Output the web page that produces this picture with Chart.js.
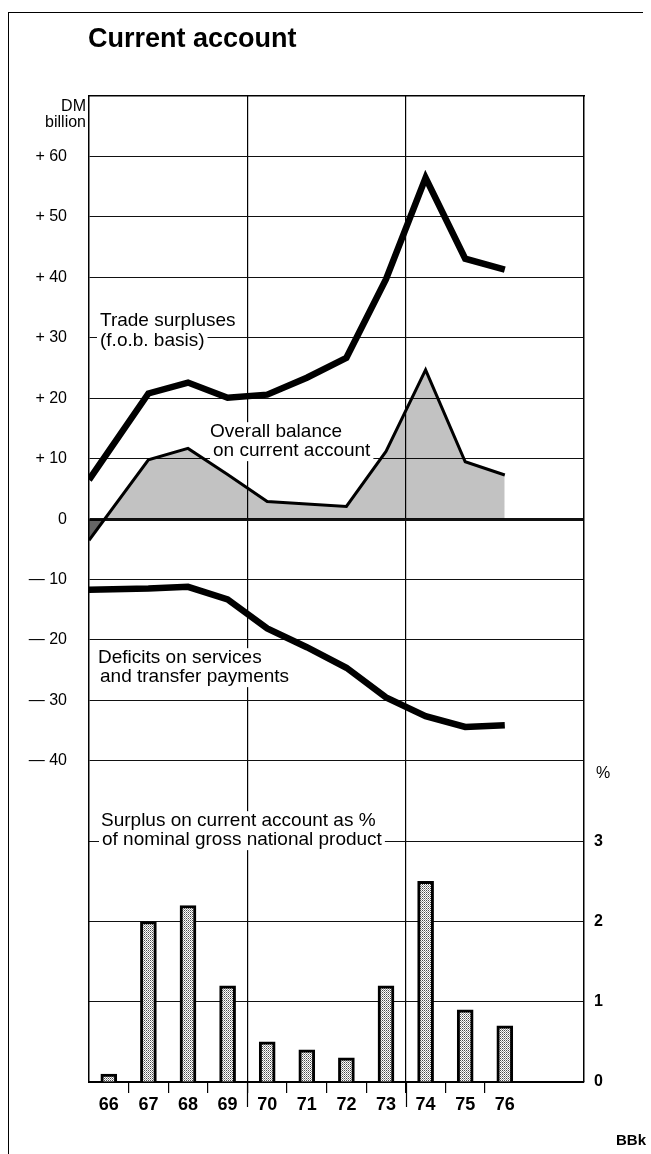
<!DOCTYPE html>
<html>
<head>
<meta charset="utf-8">
<script src="https://cdn.jsdelivr.net/npm/chart.js@4.4.1/dist/chart.umd.min.js"></script>
<style>
  html, body { margin: 0; padding: 0; background: #fff; }
  #wrap { position: relative; width: 651px; height: 1154px; overflow: hidden; }
  #frame { position: absolute; left: 8px; top: 12px; width: 634px; height: 1150px;
           border-left: 1.5px solid #000; border-top: 1.5px solid #000; }
  #chart { position: absolute; left: 0; top: 0; }
</style>
</head>
<body>
<div id="wrap"><div id="frame"></div><canvas id="chart" width="651" height="1154"></canvas></div>
<script>
// line vertices (first one sits on the left edge of the plot)
const lineYears = [65.5, 67, 68, 69, 70, 71, 72, 73, 74, 75, 76];
const tradeSurplus = [6.5, 20.8, 22.6, 20.1, 20.6, 23.4, 26.7, 39.7, 56.5, 43.1, 41.3];
const overallBalance = [-3.5, 9.8, 11.7, 7.4, 2.9, 2.5, 2.1, 11.2, 24.7, 9.5, 7.3];
const servicesDeficit = [-11.7, -11.5, -11.2, -13.3, -18.1, -21.2, -24.6, -29.5, -32.6, -34.4, -34.1];

// bars, % of GNP
const barYears = [66, 67, 68, 69, 70, 71, 72, 73, 74, 75, 76];
const surplusPct = [0.1, 2.0, 2.2, 1.2, 0.5, 0.4, 0.3, 1.2, 2.5, 0.9, 0.7];

const dmTicks = [-40, -30, -20, -10, 0, 10, 20, 30, 40, 50, 60];
const pctTicks = [0, 1, 2, 3];
const yearDividers = [69.5, 73.5];
const halfYearTicks = [66.5, 67.5, 68.5, 70.5, 71.5, 72.5, 74.5, 75.5];

const FONT = '"Liberation Sans", Arial, Helvetica, sans-serif';

function stipple(dots) {
    const c = document.createElement('canvas');
    c.width = 2; c.height = 2;
    const g = c.getContext('2d');
    g.fillStyle = '#fff';
    g.fillRect(0, 0, 2, 2);
    dots.forEach(d => {
        g.fillStyle = 'rgba(0,0,0,' + d[2] + ')';
        g.fillRect(d[0], d[1], 1, 1);
    });
    return g.createPattern(c, 'repeat');
}
const lightDots = stipple([[0, 0, 0.7], [1, 1, 0.4]]);

function toPoints(xs, ys) {
    return xs.map((x, i) => ({ x, y: ys[i] }));
}

function boxedText(ctx, lines, size, weight) {
    ctx.font = (weight || '') + ' ' + size + 'px ' + FONT;
    ctx.fillStyle = '#fff';
    lines.forEach(l => {
        const w = ctx.measureText(l.t).width;
        ctx.fillRect(l.x - 3, l.y - size * 0.78, w + 6, size * 1.05);
    });
    ctx.fillStyle = '#000';
    ctx.textAlign = 'left';
    ctx.textBaseline = 'alphabetic';
    lines.forEach(l => ctx.fillText(l.t, l.x, l.y));
}

const notes = {
    id: 'notes',
    beforeDatasetsDraw(chart) {
        const ctx = chart.ctx;
        ctx.save();
        boxedText(ctx, [{ t: 'Trade surpluses', x: 100, y: 326 }, { t: '(f.o.b. basis)', x: 100, y: 346 }], 19);
        boxedText(ctx, [{ t: 'Overall balance', x: 210, y: 437 }, { t: 'on current account', x: 213, y: 456 }], 19);
        boxedText(ctx, [{ t: 'Deficits on services', x: 98, y: 663 }, { t: 'and transfer payments', x: 100, y: 682 }], 19);
        boxedText(ctx, [{ t: 'Surplus on current account as %', x: 101, y: 826 }, { t: 'of nominal gross national product', x: 102, y: 845 }], 19);
        ctx.restore();
    },
    afterDraw(chart) {
        const ctx = chart.ctx;
        const xs = chart.scales.x;
        const bottom = chart.chartArea.bottom;
        ctx.save();
        ctx.strokeStyle = '#000';
        ctx.lineWidth = 1.2;
        yearDividers.forEach(v => {
            const px = Math.round(xs.getPixelForValue(v)) + 0.5;
            ctx.beginPath();
            ctx.moveTo(px, bottom);
            ctx.lineTo(px, bottom + 25);
            ctx.stroke();
        });
        ctx.fillStyle = '#000';
        ctx.textBaseline = 'alphabetic';
        ctx.font = 'bold 27px ' + FONT;
        ctx.textAlign = 'left';
        ctx.fillText('Current account', 88, 47);
        ctx.font = '16px ' + FONT;
        ctx.textAlign = 'right';
        ctx.fillText('DM', 86, 111);
        ctx.fillText('billion', 86, 127);
        ctx.textAlign = 'left';
        ctx.fillText('%', 596, 778);
        ctx.font = 'bold 15px ' + FONT;
        ctx.fillText('BBk', 616, 1145);
        ctx.restore();
    }
};

new Chart(document.getElementById('chart'), {
    type: 'line',
    data: {
        datasets: [
            {
                label: 'Trade surpluses (f.o.b. basis)',
                data: toPoints(lineYears, tradeSurplus),
                borderColor: '#000', borderWidth: 6.5,
                borderJoinStyle: 'miter', pointRadius: 0, tension: 0, fill: false,
                yAxisID: 'y'
            },
            {
                label: 'Overall balance on current account',
                data: toPoints(lineYears, overallBalance),
                borderColor: '#000', borderWidth: 3,
                borderJoinStyle: 'miter', pointRadius: 0, tension: 0,
                fill: { target: 'origin', above: 'rgba(0,0,0,0.24)', below: 'rgba(0,0,0,0.6)' },
                yAxisID: 'y'
            },
            {
                label: 'Deficits on services and transfer payments',
                data: toPoints(lineYears, servicesDeficit),
                borderColor: '#000', borderWidth: 6.5,
                borderJoinStyle: 'miter', pointRadius: 0, tension: 0, fill: false,
                yAxisID: 'y'
            },
            {
                type: 'bar',
                label: 'Surplus on current account as % of nominal GNP',
                data: toPoints(barYears, surplusPct),
                backgroundColor: lightDots,
                borderColor: '#000', borderWidth: 3,
                barThickness: 16,
                yAxisID: 'y2'
            }
        ]
    },
    options: {
        responsive: false,
        animation: false,
        devicePixelRatio: 1,
        layout: { padding: 0 },
        plugins: { legend: { display: false }, tooltip: { enabled: false } },
        scales: {
            x: {
                type: 'linear', position: 'bottom', min: 65.5, max: 78, offset: false,
                afterBuildTicks: s => {
                    s.ticks = barYears.concat(halfYearTicks, yearDividers)
                        .sort((a, b) => a - b).map(v => ({ value: v }));
                },
                afterFit: s => { s.height = 72; },
                grid: {
                    drawOnChartArea: true, offset: false,
                    color: c => yearDividers.includes(c.tick && c.tick.value) ? '#000' : 'rgba(0,0,0,0)',
                    tickColor: c => (c.tick && Number.isInteger(c.tick.value)) ? 'rgba(0,0,0,0)' : '#000',
                    lineWidth: 1.2,
                    tickLength: 11
                },
                border: { display: true, color: '#000', width: 2 },
                ticks: {
                    autoSkip: false, maxRotation: 0, padding: 1, color: '#000',
                    font: { family: FONT, size: 18, weight: 'bold' },
                    callback: v => Number.isInteger(v) ? String(v) : ''
                }
            },
            xt: {
                type: 'linear', position: 'top', min: 65.5, max: 78, offset: false,
                afterFit: s => { s.height = 96; },
                grid: { display: false },
                border: { display: true, color: '#000', width: 1.5 },
                ticks: { display: false }
            },
            y: {
                type: 'linear', position: 'left', min: -93.16, max: 70.03,
                afterBuildTicks: s => { s.ticks = dmTicks.map(v => ({ value: v })); },
                afterFit: s => { s.width = 89; },
                grid: {
                    color: '#111',
                    lineWidth: c => (c.tick && c.tick.value === 0) ? 3 : 1.1,
                    drawTicks: false
                },
                border: { display: true, color: '#000', width: 1.5 },
                ticks: {
                    padding: 22, color: '#000',
                    font: { family: FONT, size: 16 },
                    callback: v => v > 0 ? '+ ' + v : (v < 0 ? '\u2014 ' + (-v) : '0')
                }
            },
            y2: {
                type: 'linear', position: 'right', min: 0, max: 12.29,
                afterBuildTicks: s => { s.ticks = pctTicks.map(v => ({ value: v })); },
                afterFit: s => { s.width = 67; },
                grid: {
                    color: c => (c.tick && c.tick.value === 0) ? 'rgba(0,0,0,0)' : '#111',
                    lineWidth: 1.1,
                    drawTicks: false
                },
                border: { display: true, color: '#000', width: 1.5 },
                ticks: {
                    padding: 10, color: '#000',
                    font: { family: FONT, size: 16, weight: 'bold' },
                    callback: v => String(v)
                }
            }
        }
    },
    plugins: [notes]
});
</script>
</body>
</html>
